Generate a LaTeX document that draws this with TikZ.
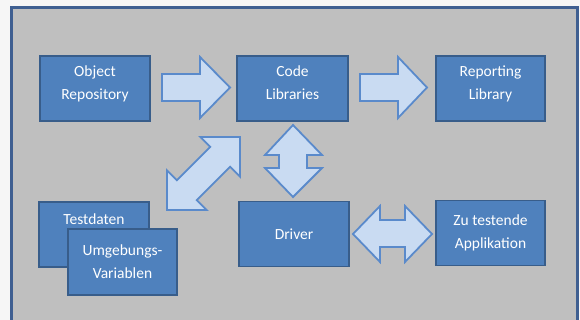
\documentclass[tikz,border=0pt]{standalone}
\usepackage{fontspec}
\setmainfont{Carlito}
\definecolor{bgout}{HTML}{F6F6F6}
\definecolor{panel}{HTML}{BFBFBF}
\definecolor{frame}{HTML}{3F5F91}
\definecolor{boxfill}{HTML}{4F81BD}
\definecolor{boxline}{HTML}{385D8A}
\definecolor{arrfill}{HTML}{C9DBF2}
\definecolor{arrline}{HTML}{5A8ACB}
\tikzset{
  blk/.style={draw=boxline, line width=1.6pt, fill=boxfill, text=white,
    minimum width=110pt, minimum height=65pt, inner sep=0pt, align=center,
    font=\fontsize{15.5}{23}\selectfont},
  upper/.style={text depth=12pt},
  barrow/.style={draw=arrline, line width=1.8pt, fill=arrfill, line join=miter},
  lbl/.style={text=white, align=center, font=\fontsize{15.5}{23}\selectfont, inner sep=0pt}
}
\begin{document}
\begin{tikzpicture}[x=1pt,y=-1pt]
\useasboundingbox (0,0) rectangle (580,320);
\fill[bgout] (0,0) rectangle (580,320);
\begin{scope}
\clip (0,0) rectangle (580,320);
\draw[frame, line width=3pt, fill=panel] (11,8) rectangle (577,335);
\end{scope}
% boxes
\node[blk, upper] (obj) at (95,88.5) {Object\\Repository};
\node[blk, upper, minimum width=111pt] (code) at (292.5,88.5) {Code\\Libraries};
\node[blk, upper, minimum width=109pt] (rep) at (490.5,88.5) {Reporting\\Library};
\node[blk] (test) at (94,234.5) {};
\node[lbl] (testl) at (94,219) {Testdaten};
\node[blk, minimum width=109pt, minimum height=66pt] (umg) at (122.5,262) {Umgebungs-\\Variablen};
\node[blk] (drv) at (294,234) {Driver};
\node[blk, minimum width=109pt] (app) at (490.5,233) {Zu testende\\Applikation};
% block arrows
\draw[barrow] (162,74) -- (200,74) -- (200,57) -- (230,87.5) -- (200,118) -- (200,101) -- (162,101) -- cycle;
\draw[barrow] (360,74) -- (398,74) -- (398,57) -- (427,87.5) -- (398,118) -- (398,101) -- (360,101) -- cycle;
\draw[barrow] (353,234) -- (380,206) -- (380,220) -- (405,220) -- (405,206) -- (432,234) -- (405,262) -- (405,247) -- (380,247) -- (380,262) -- cycle;
\draw[barrow] (293,125) -- (322,155) -- (307,155) -- (307,168) -- (322,168) -- (293,197) -- (265,168) -- (279,168) -- (279,155) -- (265,155) -- cycle;
\draw[barrow] (240,137) -- (240,176.6) -- (230.1,166.7) -- (196.7,200.1) -- (206.6,210) -- (167,210) -- (167,170.4) -- (176.9,180.3) -- (210.3,146.9) -- (200.4,137) -- cycle;
\end{tikzpicture}
\end{document}
